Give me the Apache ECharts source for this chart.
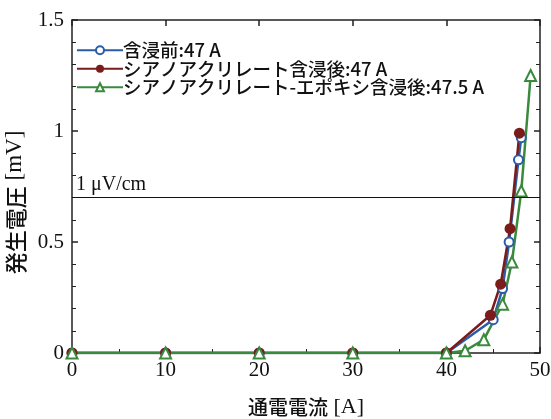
<!DOCTYPE html>
<html>
<head>
<meta charset="utf-8">
<script src="https://cdn.jsdelivr.net/npm/echarts@6/dist/echarts.min.js"></script>
<style>
  html, body { margin: 0; padding: 0; background: #fff; }
  #chart { width: 551px; height: 419px; }
</style>
</head>
<body>
<div id="chart"></div>
<script>
// series names
const seriesNames = [
  "含浸前:47 A",
  "シアノアクリレート含浸後:47 A",
  "シアノアクリレート-エポキシ含浸後:47.5 A"
];

// current [A] / voltage [mV]
const currentBefore = [0, 10, 20, 30, 40, 45, 46, 46.7, 47.7, 48];
const voltageBefore = [0, 0, 0, 0, 0, 0.15, 0.29, 0.5, 0.87, 0.97];

const currentCyano = [0, 10, 20, 30, 40, 44.7, 45.8, 46.8, 47.8];
const voltageCyano = [0, 0, 0, 0, 0, 0.17, 0.31, 0.56, 0.99];

const currentEpoxy = [0, 10, 20, 30, 40, 42, 44, 46, 47, 48, 49];
const voltageEpoxy = [0, 0, 0, 0, 0, 0.01, 0.06, 0.22, 0.41, 0.73, 1.25];

const criterionValue = 0.7;
const criterionLabel = "1 μV/cm";

const xTicks = { min: 0, max: 50, interval: 10 };
const yTicks = { min: 0, max: 1.5, interval: 0.5 };

const colors = ["#2a5caa", "#7a1c1c", "#3a8a3e"];

const pair = (xs, ys) => xs.map((x, i) => [x, ys[i]]);

const serif = "'Liberation Serif', 'DejaVu Serif', serif";
const jp = "'Noto Sans CJK JP', sans-serif";
const axisColor = "#222";

const chart = echarts.init(document.getElementById("chart"));

const baseAxis = {
  type: "value",
  axisLine: { show: true, onZero: false, lineStyle: { color: axisColor, width: 1.5 } },
  axisTick: { show: true, inside: true, length: 6, lineStyle: { color: axisColor, width: 1.5 } },
  minorTick: { show: true, length: 4, lineStyle: { color: axisColor, width: 1 } },
  splitLine: { show: false }
};

chart.setOption({
  animation: false,
  color: colors,
  grid: { left: 72, right: 11, top: 20, bottom: 66, outerBoundsMode: "none" },
  legend: {
    left: 71,
    top: 36,
    orient: "vertical",
    itemWidth: 46,
    itemHeight: 10,
    itemGap: 0,
    textStyle: { fontFamily: jp, fontSize: 18.5, fontWeight: 500, color: "#111", padding: [0, 0, 0, -5] },
    data: seriesNames
  },
  xAxis: [
    Object.assign({}, baseAxis, {
      min: xTicks.min, max: xTicks.max, interval: xTicks.interval,
      name: "通電電流{s| [A]}",
      nameLocation: "middle",
      nameGap: 43,
      nameTextStyle: {
        fontFamily: jp, fontSize: 20, fontWeight: 500, color: "#111",
        rich: { s: { fontFamily: serif, fontSize: 22, color: "#111" } }
      },
      minorTick: Object.assign({}, baseAxis.minorTick, { splitNumber: 2 }),
      axisLabel: { fontFamily: serif, fontSize: 21, color: "#111", margin: 7 }
    }),
    Object.assign({}, baseAxis, {
      position: "top",
      min: xTicks.min, max: xTicks.max, interval: xTicks.interval,
      minorTick: Object.assign({}, baseAxis.minorTick, { show: false }),
      axisLabel: { show: false }
    })
  ],
  yAxis: [
    Object.assign({}, baseAxis, {
      min: yTicks.min, max: yTicks.max, interval: yTicks.interval,
      name: "発生電圧{s| [mV]}",
      nameLocation: "middle",
      nameGap: 36,
      nameTextStyle: {
        fontFamily: jp, fontSize: 22, fontWeight: 500, color: "#111",
        padding: [0, 32, 0, 0],
        rich: { s: { fontFamily: serif, fontSize: 23, color: "#111" } }
      },
      minorTick: Object.assign({}, baseAxis.minorTick, { splitNumber: 5 }),
      axisLabel: { fontFamily: serif, fontSize: 21, color: "#111", margin: 8 }
    }),
    Object.assign({}, baseAxis, {
      position: "right",
      min: yTicks.min, max: yTicks.max, interval: yTicks.interval,
      minorTick: Object.assign({}, baseAxis.minorTick, { splitNumber: 5 }),
      axisLabel: { show: false }
    })
  ],
  series: [
    {
      name: seriesNames[0],
      type: "line",
      data: pair(currentBefore, voltageBefore),
      symbol: "emptyCircle",
      symbolSize: 9,
      lineStyle: { width: 2.5, color: colors[0] },
      itemStyle: { borderWidth: 2, color: colors[0] },
      markLine: {
        silent: true,
        symbol: "none",
        lineStyle: { color: "#111", width: 1.2, type: "solid" },
        label: {
          position: "insideStartTop",
          formatter: criterionLabel,
          fontFamily: serif,
          fontSize: 20,
          color: "#111",
          distance: [4, 3]
        },
        data: [{ yAxis: criterionValue }]
      }
    },
    {
      name: seriesNames[1],
      type: "line",
      data: pair(currentCyano, voltageCyano),
      symbol: "circle",
      symbolSize: 11,
      lineStyle: { width: 2.5, color: colors[1] },
      itemStyle: { color: colors[1] }
    },
    {
      name: seriesNames[2],
      type: "line",
      data: pair(currentEpoxy, voltageEpoxy),
      symbol: "emptyTriangle",
      symbolSize: 11,
      lineStyle: { width: 2.5, color: colors[2] },
      itemStyle: { borderWidth: 2, color: colors[2] }
    }
  ]
});
</script>
</body>
</html>
